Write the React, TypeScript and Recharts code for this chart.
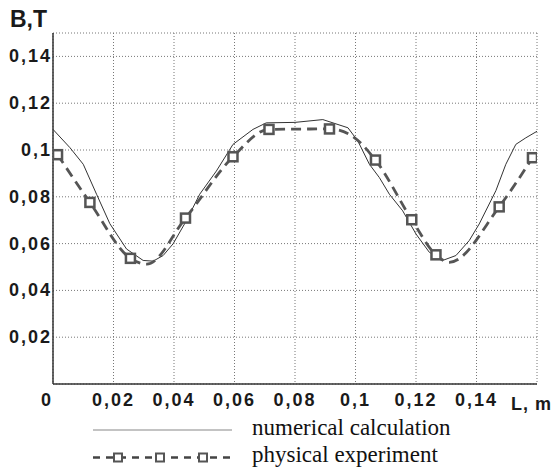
import { CartesianGrid, ComposedChart, Line, Scatter, XAxis, YAxis } from "recharts";

// numerical calculation (L in m, B in T)
const calcL = [
  0, 0.0056, 0.01, 0.0144, 0.0188, 0.0243, 0.0298, 0.0331, 0.0364, 0.0397, 0.0441, 0.0485,
  0.054, 0.0595, 0.0661, 0.0705, 0.08, 0.0892, 0.0975, 0.1008, 0.1046, 0.1079, 0.1112,
  0.1156, 0.12, 0.1244, 0.1288, 0.1332, 0.1376, 0.1409, 0.1464, 0.1497, 0.153, 0.1563, 0.16
];
const calcB = [
  0.1088, 0.101, 0.0939, 0.0811, 0.0685, 0.0577, 0.0528, 0.0525, 0.0549, 0.0599, 0.0698, 0.0811,
  0.091, 0.1024, 0.1088, 0.1116, 0.1118, 0.113, 0.1095, 0.1038, 0.0939, 0.0882, 0.0811,
  0.074, 0.0641, 0.0563, 0.0528, 0.0549, 0.0613, 0.0684, 0.0826, 0.0939, 0.1024, 0.1052, 0.108
];

// physical experiment
const expL = [
  0.0015, 0.0122, 0.0256, 0.031, 0.0438, 0.0595, 0.0714, 0.0914, 0.098, 0.1066, 0.1186,
  0.1266, 0.131, 0.1475, 0.1585
];
const expB = [
  0.098, 0.0776, 0.0537, 0.0512, 0.0709, 0.0971, 0.1088, 0.109, 0.1067, 0.0957, 0.0702,
  0.0552, 0.052, 0.0757, 0.0967
];
const expMarked = [
  true, true, true, false, true, true, true, true, false, true, true, true, false, true, true
];

const xTicks = [0, 0.02, 0.04, 0.06, 0.08, 0.1, 0.12, 0.14];
const yTicks = [0.02, 0.04, 0.06, 0.08, 0.1, 0.12, 0.14];

const calcData = calcL.map((l, i) => ({ l, b: calcB[i] }));
const expData = expL.map((l, i) => ({ l, b: expB[i] }));
const markerData = expData.filter((_, i) => expMarked[i]);

const fmt = (v: number) => String(v).replace(".", ",");

const tickFont = {
  fontFamily: "'Liberation Sans', Arial, sans-serif",
  fontWeight: 700,
  fontSize: 18,
  letterSpacing: 2,
  fill: "#1a1a1a"
};

const serif = { fontFamily: "'Liberation Serif', 'Times New Roman', serif", fontSize: 23, fill: "#111" };

function XTick({ x, y, payload }: any) {
  const v = payload.value as number;
  return (
    <text x={v === 0 ? x - 6 : x} y={y} dy={20} textAnchor="middle" style={tickFont}>
      {fmt(v)}
    </text>
  );
}

function YTick({ x, y, payload }: any) {
  return (
    <text x={x} y={y} dy={6} textAnchor="end" style={tickFont}>
      {fmt(payload.value)}
    </text>
  );
}

function Square({ cx, cy }: any) {
  return (
    <rect x={cx - 4.5} y={cy - 4.5} width={9} height={9} fill="#fff" stroke="#555" strokeWidth={2.5} />
  );
}

export default function App() {
  return (
    <div style={{ position: "relative", width: 555, height: 468, background: "#fff" }}>
      <style>{"body{margin:0}"}</style>
      <ComposedChart width={555} height={468} margin={{ top: 33, right: 18, bottom: 54, left: 0 }}>
        <CartesianGrid stroke="#777" strokeDasharray="1 2" />
        <XAxis
          type="number"
          dataKey="l"
          domain={[0, 0.16]}
          ticks={xTicks}
          allowDataOverflow
          height={30}
          tickLine={false}
          tickSize={0}
          axisLine={{ stroke: "#333", strokeWidth: 1.5 }}
          tick={(p: any) => <XTick {...p} />}
          label={{
            content: ({ viewBox }: any) => (
              <text
                x={viewBox.x + viewBox.width - 26}
                y={viewBox.y + 20}
                dy={6}
                style={{ ...tickFont, letterSpacing: 1 }}
              >
                L, m
              </text>
            )
          }}
        />
        <XAxis
          xAxisId="top"
          orientation="top"
          type="number"
          domain={[0, 0.16]}
          height={0}
          tick={false}
          tickLine={false}
          axisLine={{ stroke: "#999", strokeWidth: 2 }}
        />
        <YAxis
          type="number"
          domain={[0, 0.15]}
          ticks={yTicks}
          allowDataOverflow
          width={53}
          tickLine={false}
          tickSize={0}
          tickMargin={1}
          axisLine={{ stroke: "#333", strokeWidth: 1.5 }}
          tick={(p: any) => <YTick {...p} />}
        />
        <YAxis
          yAxisId="right"
          orientation="right"
          type="number"
          domain={[0, 0.15]}
          width={0}
          tick={false}
          tickLine={false}
          axisLine={{ stroke: "#444", strokeWidth: 1.5 }}
        />
        <Line
          data={calcData}
          dataKey="b"
          type="linear"
          stroke="#333"
          strokeWidth={1}
          dot={false}
          isAnimationActive={false}
        />
        <Line
          data={expData}
          dataKey="b"
          type="monotone"
          stroke="#555"
          strokeWidth={2.8}
          strokeDasharray="10 6"
          dot={false}
          isAnimationActive={false}
        />
        <Scatter data={markerData} dataKey="b" shape={(p: any) => <Square {...p} />} isAnimationActive={false} />
      </ComposedChart>
      <svg
        width={555}
        height={468}
        style={{ position: "absolute", left: 0, top: 0, pointerEvents: "none" }}
      >
        <text
          x={10}
          y={27}
          style={{ fontFamily: "'Liberation Sans', Arial, sans-serif", fontWeight: 700, fontSize: 23, fill: "#1a1a1a" }}
        >
          B,T
        </text>
        <line x1={93} x2={232} y1={430} y2={430} stroke="#888" strokeWidth={1.2} />
        <text x={252} y={435} style={serif}>
          numerical calculation
        </text>
        <line x1={93} x2={232} y1={457.5} y2={457.5} stroke="#444" strokeWidth={2.5} strokeDasharray="7 6" />
        {[118, 160, 203].map((cx) => (
          <rect key={cx} x={cx - 4} y={453.5} width={8} height={8} fill="#fff" stroke="#555" strokeWidth={2} />
        ))}
        <text x={252} y={462} style={serif}>
          physical experiment
        </text>
      </svg>
    </div>
  );
}
